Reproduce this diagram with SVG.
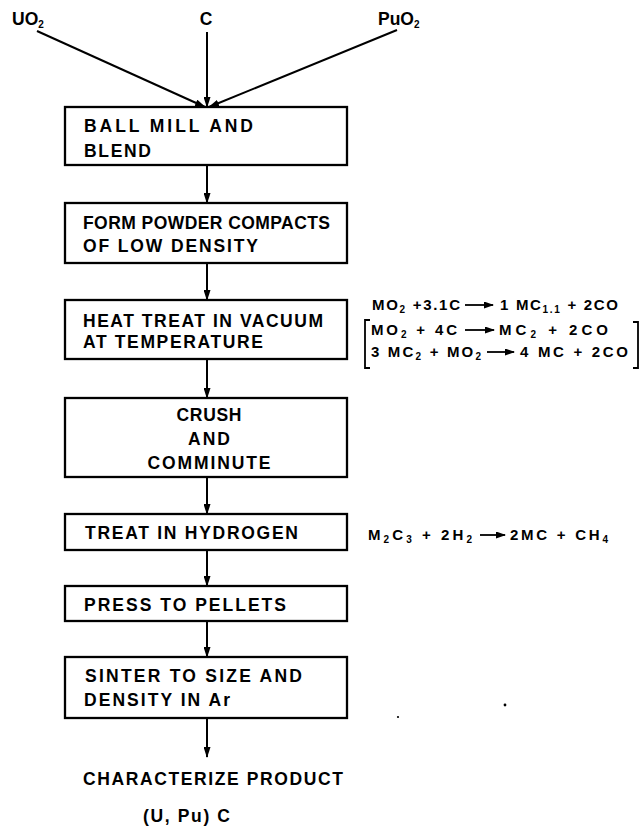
<svg xmlns="http://www.w3.org/2000/svg" width="640" height="828" viewBox="0 0 640 828">
<style>
.bx{fill:none;stroke:#000;stroke-width:2.3}
.t{font-family:"Liberation Sans",Arial,sans-serif;font-weight:bold;font-size:17.5px;fill:#000}
.eq{font-family:"Liberation Sans",Arial,sans-serif;font-weight:bold;font-size:15px;fill:#000}
.sub{font-size:10px}
.ln{stroke:#000;stroke-width:2;fill:none}
.ea{stroke:#000;stroke-width:1.8;fill:none}
</style>
<defs>
<marker id="ah" markerUnits="userSpaceOnUse" markerWidth="11" markerHeight="7" refX="10" refY="3.5" orient="auto">
<path d="M0,0 L11,3.5 L0,7 z" fill="#000"/>
</marker>
<marker id="eh" markerUnits="userSpaceOnUse" markerWidth="10" markerHeight="7" refX="9" refY="3.5" orient="auto">
<path d="M0,0 L10,3.5 L0,7 z" fill="#000"/>
</marker>
</defs>
<rect width="640" height="828" fill="#fff"/>

<g id="inputs">
<text id="uo2" class="t" x="12" y="25">UO<tspan class="sub" dy="3">2</tspan></text>
<text id="c" class="t" x="206" y="25" text-anchor="middle">C</text>
<text id="puo2" class="t" x="378" y="25">PuO<tspan class="sub" dy="3">2</tspan></text>
</g>

<g id="connectors">
<line class="ln" x1="37" y1="31" x2="205" y2="107" marker-end="url(#ah)"/>
<line class="ln" x1="207" y1="32" x2="207" y2="107" marker-end="url(#ah)"/>
<line class="ln" x1="397" y1="30" x2="209" y2="107" marker-end="url(#ah)"/>
<line class="ln" x1="207" y1="165" x2="207" y2="203" marker-end="url(#ah)"/>
<line class="ln" x1="207" y1="263" x2="207" y2="300" marker-end="url(#ah)"/>
<line class="ln" x1="207" y1="359" x2="207" y2="398" marker-end="url(#ah)"/>
<line class="ln" x1="207" y1="477" x2="207" y2="514" marker-end="url(#ah)"/>
<line class="ln" x1="207" y1="550" x2="207" y2="586" marker-end="url(#ah)"/>
<line class="ln" x1="207" y1="621" x2="207" y2="657" marker-end="url(#ah)"/>
<line class="ln" x1="207" y1="718" x2="207" y2="757" marker-end="url(#ah)"/>
</g>

<g id="n1">
<rect class="bx" x="65" y="107" width="282" height="58"/>
<text class="t" x="84" y="132" textLength="169" lengthAdjust="spacing">BALL MILL AND</text>
<text class="t" x="84" y="157" textLength="67" lengthAdjust="spacing">BLEND</text>
</g>
<g id="n2">
<rect class="bx" x="65" y="203" width="282" height="60"/>
<text class="t" x="83" y="229" textLength="247" lengthAdjust="spacing">FORM POWDER COMPACTS</text>
<text class="t" x="83" y="252" textLength="175" lengthAdjust="spacing">OF LOW DENSITY</text>
</g>
<g id="n3">
<rect class="bx" x="65" y="300" width="282" height="59"/>
<text class="t" x="83" y="327" textLength="240" lengthAdjust="spacing">HEAT TREAT IN VACUUM</text>
<text class="t" x="83" y="348" textLength="180" lengthAdjust="spacing">AT TEMPERATURE</text>
</g>
<g id="n4">
<rect class="bx" x="65" y="398" width="282" height="79"/>
<text class="t" x="209" y="421" text-anchor="middle" textLength="65" lengthAdjust="spacing">CRUSH</text>
<text class="t" x="209" y="445" text-anchor="middle" textLength="42" lengthAdjust="spacing">AND</text>
<text class="t" x="209" y="469" text-anchor="middle" textLength="123" lengthAdjust="spacing">COMMINUTE</text>
</g>
<g id="n5">
<rect class="bx" x="65" y="514" width="282" height="36"/>
<text class="t" x="85" y="539" textLength="213" lengthAdjust="spacing">TREAT IN HYDROGEN</text>
</g>
<g id="n6">
<rect class="bx" x="65" y="586" width="282" height="35"/>
<text class="t" x="84" y="611" textLength="202" lengthAdjust="spacing">PRESS TO PELLETS</text>
</g>
<g id="n7">
<rect class="bx" x="65" y="657" width="282" height="61"/>
<text class="t" x="85" y="682" textLength="217" lengthAdjust="spacing">SINTER TO SIZE AND</text>
<text class="t" x="84" y="706" textLength="146" lengthAdjust="spacing">DENSITY IN Ar</text>
</g>
<g id="output">
<text class="t" x="83" y="785" textLength="260" lengthAdjust="spacing">CHARACTERIZE PRODUCT</text>
<text class="t" x="143" y="822" textLength="87" lengthAdjust="spacing">(U, Pu) C</text>
</g>

<g id="eq-heat">
<text class="eq" x="372" y="310" textLength="88" lengthAdjust="spacing">MO<tspan class="sub" dy="3">2</tspan><tspan dy="-3"> +3.1C</tspan></text>
<line class="ea" x1="465" y1="305" x2="493" y2="305" marker-end="url(#eh)"/>
<text class="eq" x="500" y="310" textLength="118" lengthAdjust="spacing">1 MC<tspan class="sub" dy="3">1.1</tspan><tspan dy="-3"> + 2CO</tspan></text>
<path class="ea" d="M370,320 L365,320 L365,368 L370,368"/>
<text class="eq" x="371" y="335" textLength="86" lengthAdjust="spacing">MO<tspan class="sub" dy="3">2</tspan><tspan dy="-3"> + 4C</tspan></text>
<line class="ea" x1="465" y1="330" x2="494" y2="330" marker-end="url(#eh)"/>
<text class="eq" x="499" y="335" textLength="109" lengthAdjust="spacing">MC<tspan class="sub" dy="3">2</tspan><tspan dy="-3"> +  2CO</tspan></text>
<text class="eq" x="371" y="357" textLength="110" lengthAdjust="spacing">3 MC<tspan class="sub" dy="3">2</tspan><tspan dy="-3"> + MO</tspan><tspan class="sub" dy="3">2</tspan></text>
<line class="ea" x1="487" y1="352" x2="514" y2="352" marker-end="url(#eh)"/>
<text class="eq" x="520" y="357" textLength="108" lengthAdjust="spacing">4 MC + 2CO</text>
<path class="ea" d="M633,322 L638,322 L638,368 L633,368"/>
</g>

<g id="eq-h2">
<text class="eq" x="368" y="540" textLength="104" lengthAdjust="spacing">M<tspan class="sub" dy="3">2</tspan><tspan dy="-3">C</tspan><tspan class="sub" dy="3">3</tspan><tspan dy="-3"> + 2H</tspan><tspan class="sub" dy="3">2</tspan></text>
<line class="ea" x1="480" y1="535" x2="505" y2="535" marker-end="url(#eh)"/>
<text class="eq" x="510" y="540" textLength="98" lengthAdjust="spacing">2MC + CH<tspan class="sub" dy="3">4</tspan></text>
</g>

<g id="specks">
<circle cx="398" cy="717" r="1.1" fill="#000"/>
<circle cx="505" cy="705" r="1.4" fill="#000"/>
</g>
</svg>
